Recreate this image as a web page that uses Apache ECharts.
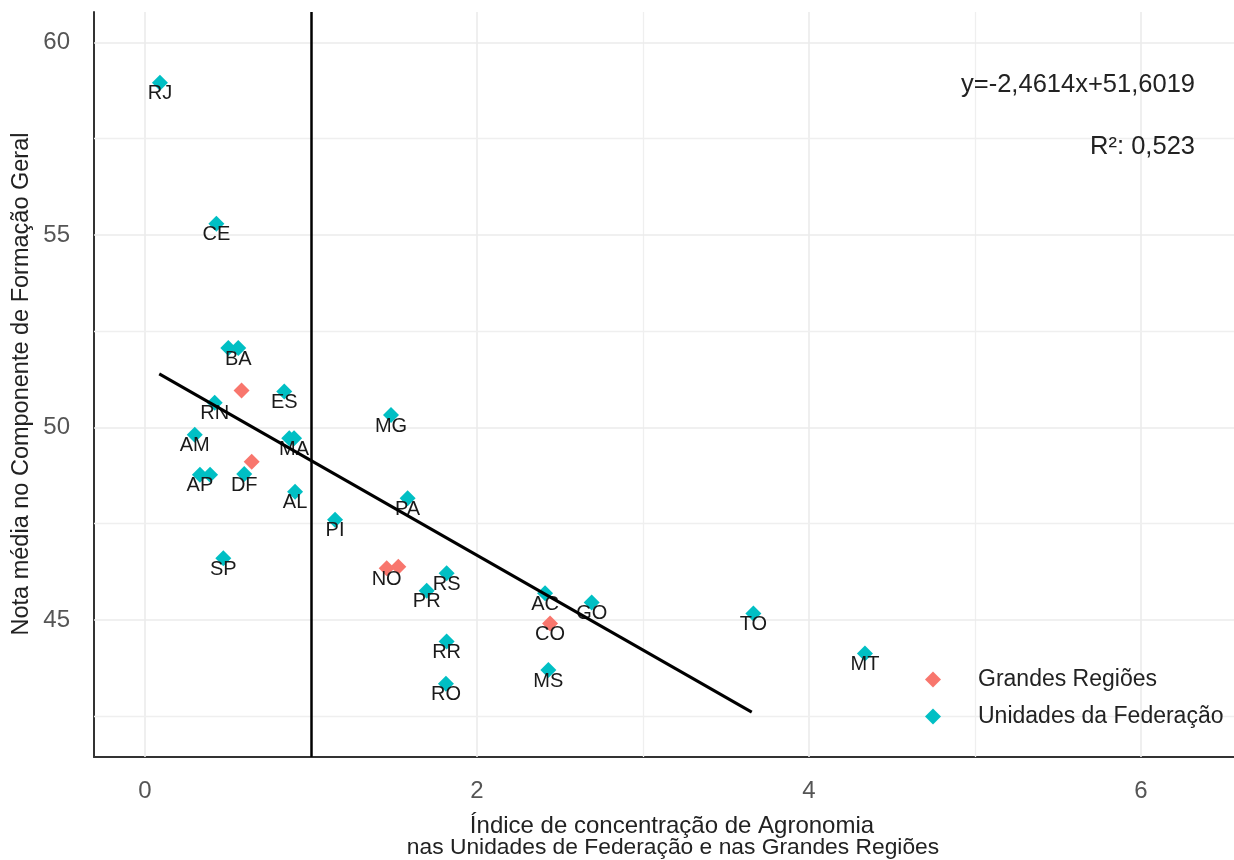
<!DOCTYPE html>
<html>
<head>
<meta charset="utf-8">
<script src="https://cdn.jsdelivr.net/npm/echarts@6/dist/echarts.min.js"></script>
<style>html,body{margin:0;padding:0;background:#fff}#c{width:1234px;height:860px}</style>
</head>
<body>
<div id="c"></div>
<script>
// ---- data ----
const ufNames = ['RJ','CE','BA','PB','ES','RN','AM','MA','PE','AP','SE','DF','AL','PI','SP','MG','PA','RS','PR','AC','GO','RR','MS','RO','TO','MT'];
const ufX =     [0.09,0.43,0.562,0.502,0.839,0.42,0.30,0.898,0.869,0.331,0.392,0.598,0.904,1.145,0.472,1.482,1.582,1.817,1.697,2.41,2.691,1.817,2.43,1.813,3.665,4.337];
const ufY =     [58.95,55.29,52.06,52.06,50.93,50.64,49.81,49.72,49.72,48.77,48.77,48.79,48.33,47.60,46.60,50.32,48.16,46.21,45.76,45.69,45.45,44.44,43.70,43.34,45.17,44.13];
const hiddenLabels = ['PB','PE','SE'];
const regNames = ['NE','SE','NO','SU','CO'];
const regX =     [0.582,0.643,1.456,1.526,2.44];
const regY =     [50.96,49.11,46.34,46.38,44.91];
const hiddenRegLabels = ['NE','SE','SU'];
const slope = -2.4614, intercept = 51.6019;
const fitX = [0.086, 3.655];
const refX = 1;
const xTicks = [0,2,4,6], xMinor = [1,3,5];
const yTicks = [45,50,55,60], yMinor = [42.5,47.5,52.5,57.5];
const seriesNames = ['Grandes Regiões','Unidades da Federação'];
const xTitle = ['Índice de concentração de Agronomia','nas Unidades de Federação e nas Grandes Regiões'];
const yTitle = 'Nota média no Componente de Formação Geral';
const eqText = 'y=-2,4614x+51,6019';
const r2Text = 'R²: 0,523';

const FONT = 'Liberation Sans, Arial, sans-serif';
const chart = echarts.init(document.getElementById('c'), null, {renderer:'canvas'});

function pts(names, xs, ys, hidden) {
  return names.map((n,i)=>({name:n, value:[xs[i], ys[i]], label:{show: hidden.indexOf(n) < 0}}));
}
const gridLine = {color:'#EBEBEB', width:1.6, type:'solid'};
const minorLine = {color:'#EFEFEF', width:1.3, type:'solid'};

const pointLabel = {show:true, formatter:'{b}', position:'inside', offset:[0,11], color:'#1a1a1a', fontSize:20, fontFamily:FONT};

chart.setOption({
  animation:false,
  backgroundColor:'#fff',
  grid:{left:94, top:12, right:0, bottom:103, containLabel:false},
  xAxis:{type:'value', min:-0.307, max:6.56,
    axisLine:{show:true, onZero:false, lineStyle:{color:'#333', width:2}},
    axisTick:{show:false}, splitLine:{show:false},
    axisLabel:{customValues:xTicks, color:'#555', fontSize:24, fontFamily:FONT, margin:22}},
  yAxis:{type:'value', min:41.44, max:60.79,
    axisLine:{show:true, onZero:false, lineStyle:{color:'#333', width:2}},
    axisTick:{show:false}, splitLine:{show:false},
    axisLabel:{customValues:yTicks, color:'#555', fontSize:24, fontFamily:FONT, margin:24}},
  legend:{data:seriesNames, orient:'vertical', left:920, top:663, z:20, icon:'diamond', itemWidth:16, itemHeight:16, itemGap:14,
    textStyle:{fontSize:23, fontFamily:FONT, color:'#222', padding:[0,0,0,32], lineHeight:23}},
  graphic:[
    {type:'text', z:100, x:672, y:826, style:{text:xTitle[0], align:'center', verticalAlign:'middle', fontSize:24, fontFamily:FONT, fill:'#222'}},
    {type:'text', z:100, x:673, y:848, style:{text:xTitle[1], align:'center', verticalAlign:'middle', fontSize:22.8, fontFamily:FONT, fill:'#222'}},
    {type:'text', z:100, x:22, y:384, rotation:Math.PI/2, style:{text:yTitle, align:'center', verticalAlign:'middle', fontSize:23.5, fontFamily:FONT, fill:'#222'}},
    {type:'text', z:100, x:1195, y:85, style:{text:eqText, align:'right', verticalAlign:'middle', fontSize:25.5, fontFamily:FONT, fill:'#222'}},
    {type:'text', z:100, x:1195, y:147, style:{text:r2Text, align:'right', verticalAlign:'middle', fontSize:25.5, fontFamily:FONT, fill:'#222'}}
  ],
  series:[
    {type:'scatter', name:'_grid', data:[], z:1, silent:true,
      markLine:{silent:true, z:1, symbol:['none','none'], label:{show:false}, animation:false,
        data:[].concat(
          xTicks.map(v=>({xAxis:v, lineStyle:gridLine})),
          xMinor.map(v=>({xAxis:v, lineStyle:minorLine})),
          yTicks.map(v=>({yAxis:v, lineStyle:gridLine})),
          yMinor.map(v=>({yAxis:v, lineStyle:minorLine}))
        )}},
    {type:'scatter', name:seriesNames[0], symbol:'diamond', symbolSize:16, z:3,
      itemStyle:{color:'#F8766D', opacity:1}, label:pointLabel,
      data:pts(regNames, regX, regY, hiddenRegLabels)},
    {type:'scatter', name:seriesNames[1], symbol:'diamond', symbolSize:16, z:3,
      itemStyle:{color:'#00BFC4', opacity:1}, label:pointLabel,
      data:pts(ufNames, ufX, ufY, hiddenLabels)},
    {type:'line', name:'_ref', data:[], z:4, silent:true,
      markLine:{silent:true, z:4, symbol:['none','none'], label:{show:false}, animation:false,
        data:[{xAxis:refX, lineStyle:{color:'#000', width:2.5, type:'solid'}}]}},
    {type:'line', name:'_fit', z:5, silent:true, symbol:'none',
      lineStyle:{color:'#000', width:3},
      data:fitX.map(x=>[x, intercept + slope*x])}
  ]
});
</script>
</body>
</html>
